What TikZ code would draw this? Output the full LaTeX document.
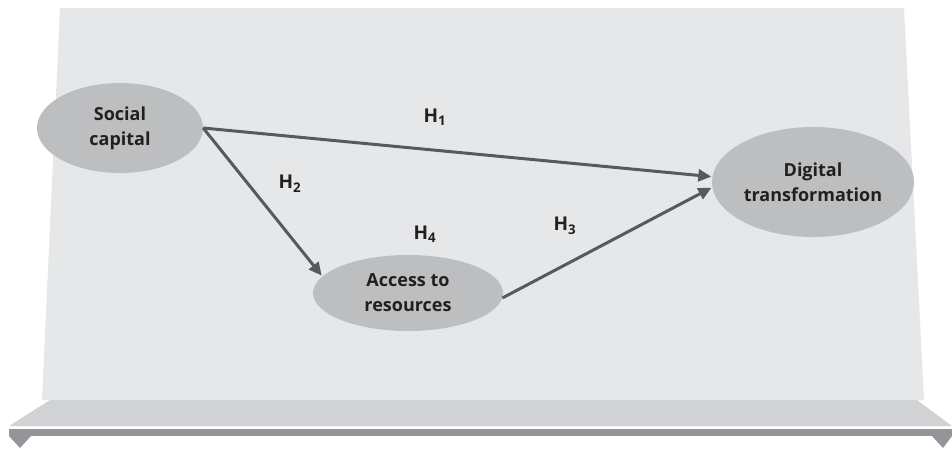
\documentclass[tikz,border=0pt]{standalone}
\usepackage{fontspec}
\setmainfont{Open Sans}
\usetikzlibrary{arrows.meta, shapes.geometric}
\definecolor{panelgray}{HTML}{E6E7E8}
\definecolor{shelfgray}{HTML}{D1D2D4}
\definecolor{bargray}{HTML}{939598}
\definecolor{ovalgray}{HTML}{BCBEC0}
\definecolor{arrowgray}{HTML}{58595B}
\definecolor{textdark}{HTML}{231F20}
\tikzset{
  construct/.style={ellipse, fill=ovalgray, inner sep=0pt, align=center,
    font=\fontsize{18}{25}\selectfont\bfseries, text=textdark},
  link/.style={draw=arrowgray, line width=3pt,
    -{Triangle[length=13pt, width=12pt]}, shorten >=1pt},
  hypo/.style={font=\fontsize{19}{22}\selectfont\bfseries, text=textdark}
}
\begin{document}
\begin{tikzpicture}[x=1pt, y=-1pt]
  \useasboundingbox (0, 0) rectangle (952, 448);

  % Backdrop panel
  \fill[panelgray] (60, 8) -- (904, 8) -- (924, 400) -- (42, 400) -- cycle;

  % Shelf and base bar
  \fill[shelfgray] (50, 400) -- (917, 400) -- (952, 426) -- (9, 426) -- cycle;
  \fill[bargray] (9, 429) rectangle (952, 436);
  \fill[bargray] (9, 436) -- (31, 436) -- (20, 448) -- cycle;
  \fill[bargray] (932, 436) -- (952, 436) -- (943, 448) -- cycle;

  % Constructs
  \node[construct, minimum width=166pt, minimum height=90pt] (soc) at (120, 128)
    {Social\\capital};
  \node[construct, minimum width=190pt, minimum height=76pt] (acc) at (408, 293)
    {Access to\\resources};
  \node[construct, minimum width=202pt, minimum height=110pt] (dig) at (813, 182)
    {Digital\\transformation};

  % Hypothesised paths
  \draw[link] (soc.east) -- (dig.177);
  \draw[link] (soc.east) -- (acc.169);
  \draw[link] (acc.357) -- (dig.183);

  % Hypothesis labels
  \node[hypo] (h1) at (435, 117) {H\textsubscript{1}};
  \node[hypo] (h2) at (290, 184) {H\textsubscript{2}};
  \node[hypo] (h3) at (565, 226) {H\textsubscript{3}};
  \node[hypo] (h4) at (425, 234) {H\textsubscript{4}};
\end{tikzpicture}
\end{document}
